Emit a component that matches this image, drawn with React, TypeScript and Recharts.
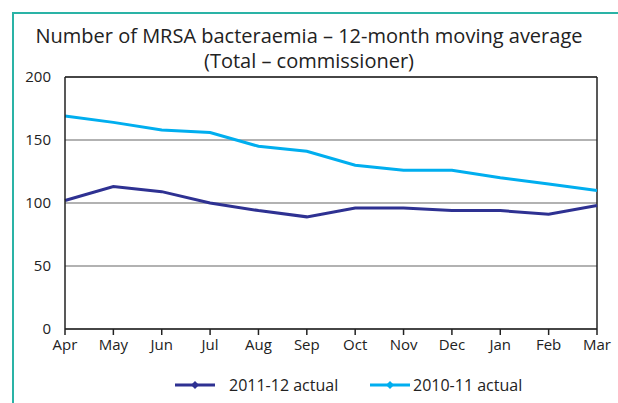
import {
  LineChart,
  Line,
  CartesianGrid,
  XAxis,
  YAxis,
  ReferenceLine,
} from 'recharts';

const MONTHS = ['Apr', 'May', 'Jun', 'Jul', 'Aug', 'Sep', 'Oct', 'Nov', 'Dec', 'Jan', 'Feb', 'Mar'];
const ACTUAL_2011_12 = [102, 113, 109, 100, 94, 89, 96, 96, 94, 94, 91, 98];
const ACTUAL_2010_11 = [169, 164, 158, 156, 145, 141, 130, 126, 126, 120, 115, 110];
const Y_TICKS = [0, 50, 100, 150, 200];

const DARK = '#2e3192';
const LIGHT = '#00aeef';
const FONT = '"Open Sans", "DejaVu Sans", sans-serif';

const chartData = MONTHS.map((month, i) => ({
  month,
  a2011: ACTUAL_2011_12[i],
  a2010: ACTUAL_2010_11[i],
}));

const legendItems = [
  { label: '2011-12 actual', color: DARK, left: 175, gap: 14 },
  { label: '2010-11 actual', color: LIGHT, left: 370, gap: 3 },
];

const ChartLegend = () => (
  <>
    {legendItems.map((item) => (
      <div
        key={item.label}
        style={{
          position: 'absolute',
          left: item.left,
          top: 0,
          display: 'flex',
          alignItems: 'center',
          gap: item.gap,
          fontFamily: FONT,
          fontSize: 16,
          color: '#222',
          whiteSpace: 'nowrap',
        }}
      >
        <svg width={40} height={10}>
          <line x1={0} y1={5} x2={40} y2={5} stroke={item.color} strokeWidth={3} />
          <path d="M20 1 L24 5 L20 9 L16 5 Z" fill={item.color} />
        </svg>
        <span>{item.label}</span>
      </div>
    ))}
  </>
);

const App = () => {
  return (
    <div style={{ position: 'absolute', left: 0, top: 0, width: 618, height: 403, background: '#fff' }}>
      <div style={{ position: 'absolute', left: 12, top: 12, width: 606, height: 2, background: '#2ab3a6' }} />
      <div style={{ position: 'absolute', left: 12, top: 12, width: 2, height: 391, background: '#2ab3a6' }} />
      <div
        style={{
          position: 'absolute',
          left: 0,
          top: 23,
          width: 618,
          textAlign: 'center',
          fontFamily: FONT,
          fontSize: 20,
          lineHeight: '25px',
          color: '#222',
        }}
      >
        Number of MRSA bacteraemia – 12-month moving average
        <br />
        (Total – commissioner)
      </div>
      <div style={{ position: 'absolute', left: 0, top: 0 }}>
        <LineChart width={618} height={403} data={chartData} margin={{ top: 77, right: 21, bottom: 44, left: 0 }}>
          <CartesianGrid horizontal vertical={false} stroke="#999" strokeWidth={1.5} />
          <XAxis
            dataKey="month"
            padding={{ left: 0, right: 0 }}
            height={30}
            tickSize={6}
            tickMargin={4}
            axisLine={{ stroke: '#222', strokeWidth: 1.5 }}
            tickLine={{ stroke: '#222', strokeWidth: 1.5 }}
            tick={{ fill: '#222', fontSize: 15, fontFamily: FONT }}
            interval={0}
          />
          <YAxis
            domain={[0, 200]}
            ticks={Y_TICKS}
            width={65}
            tickLine={false}
            tickMargin={8}
            axisLine={{ stroke: '#222', strokeWidth: 1.5 }}
            tick={{ fill: '#222', fontSize: 15, fontFamily: FONT }}
          />
          <ReferenceLine y={200} stroke="#222" strokeWidth={1.5} />
          <ReferenceLine x="Mar" stroke="#222" strokeWidth={1.5} />
          <Line
            type="linear"
            dataKey="a2011"
            name="2011-12 actual"
            stroke={DARK}
            strokeWidth={3}
            dot={false}
            isAnimationActive={false}
          />
          <Line
            type="linear"
            dataKey="a2010"
            name="2010-11 actual"
            stroke={LIGHT}
            strokeWidth={3}
            dot={false}
            isAnimationActive={false}
          />
        </LineChart>
      </div>
      <div style={{ position: 'absolute', left: 0, top: 374, width: 618, height: 24 }}>
        <ChartLegend />
      </div>
    </div>
  );
};

export default App;
